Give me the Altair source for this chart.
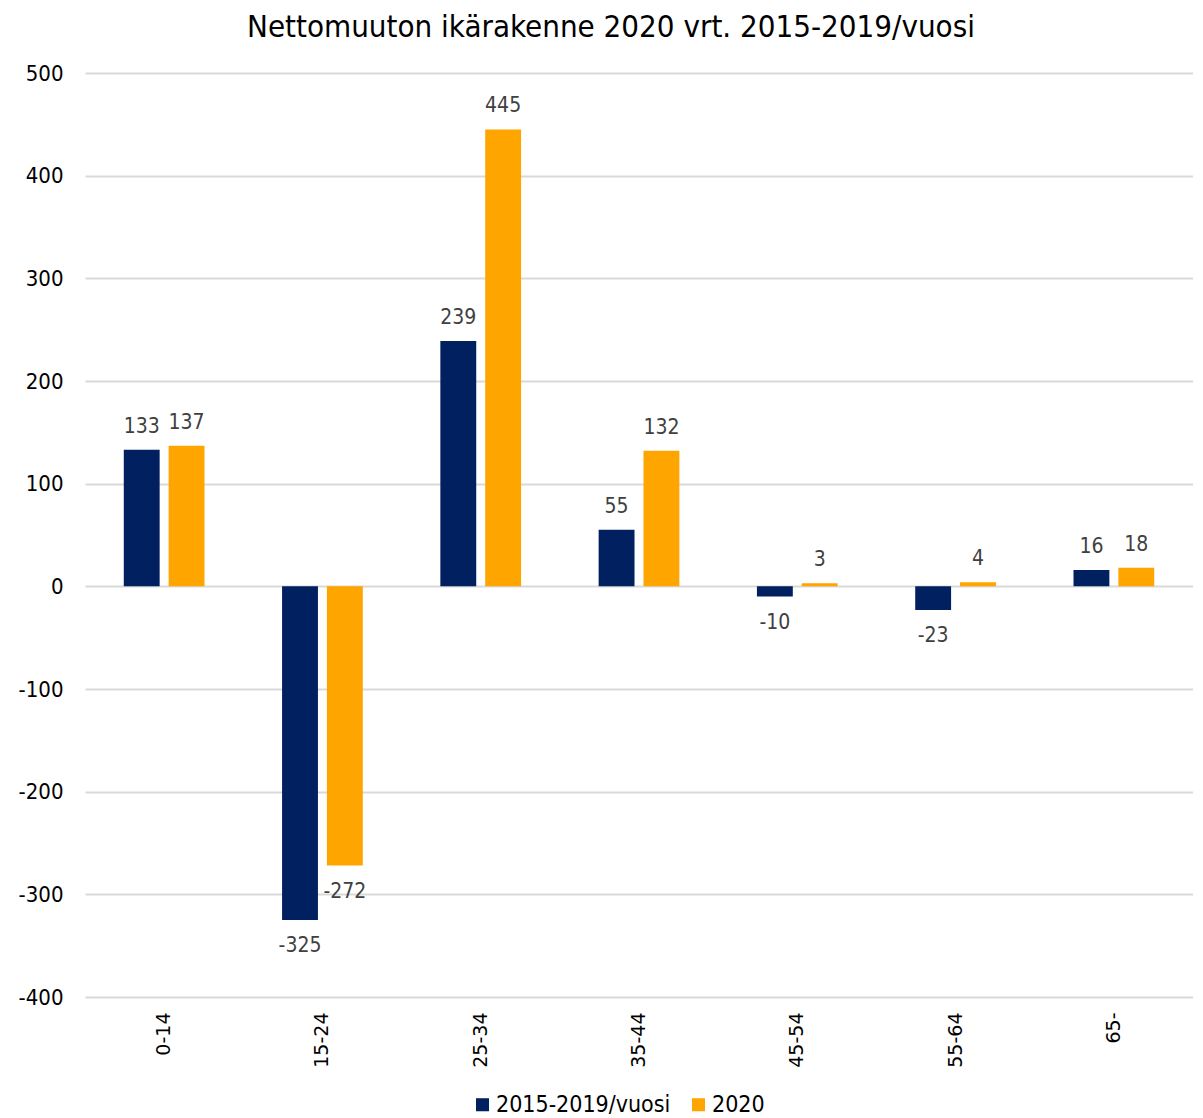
import altair as alt
import pandas as pd

categories = ["0-14", "15-24", "25-34", "35-44", "45-54", "55-64", "65-"]
series_names = ["2015-2019/vuosi", "2020"]
values_2015_2019 = [133, -325, 239, 55, -10, -23, 16]
values_2020 = [137, -272, 445, 132, 3, 4, 18]
colors = ["#002060", "#FFA500"]
y_ticks = [-400, -300, -200, -100, 0, 100, 200, 300, 400, 500]

rows = []
for c, a, b in zip(categories, values_2015_2019, values_2020):
    rows.append({"ika": c, "sarja": series_names[0], "arvo": a})
    rows.append({"ika": c, "sarja": series_names[1], "arvo": b})
df = pd.DataFrame(rows)

FONT = "DejaVu Sans Condensed, DejaVu Sans"
XFONT = "DejaVu Sans"

x_enc = alt.X("ika:N", sort=categories, title=None,
              scale=alt.Scale(paddingInner=0.49, paddingOuter=0.245),
              axis=alt.Axis(labelAngle=270, labelAlign="right", labelBaseline="middle",
                            labelFontSize=19, labelColor="#000000", labelFont=XFONT,
                            ticks=False, domain=False, labelPadding=15, grid=False))
xoff = alt.XOffset("sarja:N", sort=series_names, scale=alt.Scale(paddingInner=0.2, paddingOuter=0))
y_enc = alt.Y("arvo:Q", title=None,
              scale=alt.Scale(domain=[-400, 500], nice=False, zero=False),
              axis=alt.Axis(values=y_ticks, ticks=False, domain=False, labelFontSize=22,
                            labelColor="#000000", labelFont=FONT, labelPadding=22,
                            labelExpr="toString(datum.value)",
                            gridColor="#D9D9D9", gridWidth=2))

base = alt.Chart(df).transform_calculate(teksti="toString(datum.arvo)")

bars = base.mark_bar().encode(
    x=x_enc,
    xOffset=xoff,
    y=y_enc,
    color=alt.Color("sarja:N", sort=series_names,
                    scale=alt.Scale(domain=series_names, range=colors),
                    legend=alt.Legend(title=None, orient="none", direction="horizontal",
                                      legendX=386, legendY=1020,
                                      symbolType="square", symbolSize=170, labelLimit=400,
                                      labelFontSize=23, labelFont=FONT, labelColor="#000000",
                                      columnPadding=16, symbolStrokeWidth=0, labelOffset=2)),
)

pos_labels = base.transform_filter("datum.arvo >= 0").mark_text(
    dy=-23, fontSize=21, font=FONT, color="#404040", baseline="middle"
).encode(x=alt.X("ika:N", sort=categories), xOffset=xoff, y="arvo:Q", text="teksti:N")

neg_labels = base.transform_filter("datum.arvo < 0").mark_text(
    dy=26, fontSize=21, font=FONT, color="#404040", baseline="middle"
).encode(x=alt.X("ika:N", sort=categories), xOffset=xoff, y="arvo:Q", text="teksti:N")

chart = alt.layer(bars, pos_labels, neg_labels).properties(
    width=1108, height=924,
    title=alt.Title("Nettomuuton ikärakenne 2020 vrt. 2015-2019/vuosi",
                    fontSize=31, fontWeight="normal", font=FONT, color="#000000",
                    anchor="middle", offset=18, dx=-28),
    padding={"left": 10, "top": 4, "right": 0, "bottom": 0},
).configure_view(stroke=None)

chart.save("out.html", embed_options={"renderer": "svg", "actions": False})
